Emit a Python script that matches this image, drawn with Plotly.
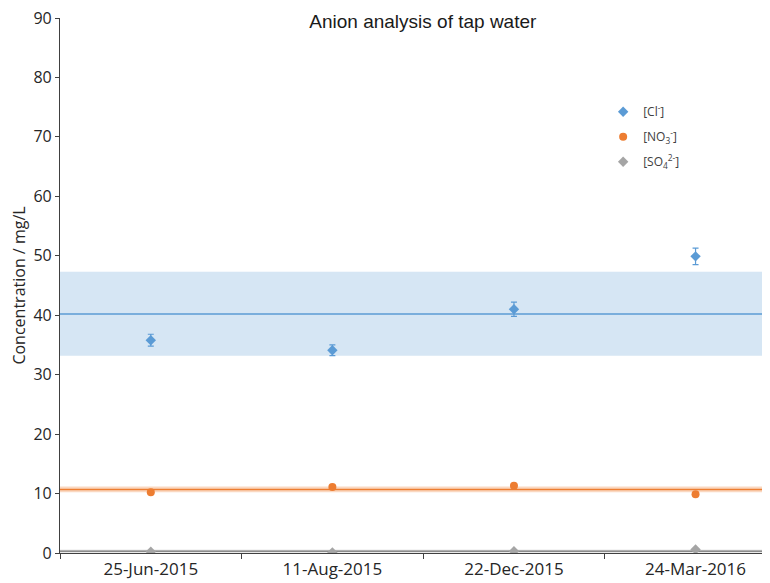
import plotly.graph_objects as go

dates = ["25-Jun-2015", "11-Aug-2015", "22-Dec-2015", "24-Mar-2016"]
cl_vals = [35.8, 34.1, 41.0, 49.9]
cl_err = [1.0, 0.9, 1.2, 1.4]
no3_vals = [10.2, 11.1, 11.3, 9.9]
so4_vals = [0.2, 0.1, 0.3, 0.6]

# mean lines and bands: [lower, mean, upper]
cl_band = [33.2, 40.2, 47.3]
no3_band = [10.2, 10.7, 11.2]
so4_band = [0.1, 0.3, 0.55]

y_ticks = [0, 10, 20, 30, 40, 50, 60, 70, 80, 90]

blue = "#5B9BD5"
orange = "#ED7D31"
gray = "#A5A5A5"

fig = go.Figure()

shapes = []
for band, fillc, linec in [
    (cl_band, "rgba(91,155,213,0.25)", blue),
    (no3_band, "rgba(237,125,49,0.3)", orange),
    (so4_band, "rgba(165,165,165,0.45)", "#8c8c8c"),
]:
    shapes.append(dict(type="rect", xref="x", yref="y", x0=-0.5, x1=3.6,
                       y0=band[0], y1=band[2], fillcolor=fillc,
                       line=dict(width=0), layer="below"))
    shapes.append(dict(type="line", xref="x", yref="y", x0=-0.5, x1=3.6,
                       y0=band[1], y1=band[1], line=dict(color=linec, width=1.5),
                       layer="below"))

fig.add_trace(go.Scatter(
    x=dates, y=cl_vals, mode="markers", name="[Cl<sup>-</sup>]", legendgroup="a",
    marker=dict(symbol="diamond", size=8, color=blue),
    error_y=dict(type="data", array=cl_err, color=blue, thickness=1.2, width=3),
))
fig.add_trace(go.Scatter(
    x=dates, y=no3_vals, mode="markers", name="[NO<sub>3</sub><sup>-</sup>]", legendgroup="b",
    marker=dict(symbol="circle", size=8, color=orange),
))
fig.add_trace(go.Scatter(
    x=dates, y=so4_vals, mode="markers", name="[SO<sub>4</sub><sup>2-</sup>]", legendgroup="c",
    marker=dict(symbol="diamond", size=8, color=gray),
))

fig.update_layout(
    width=762, height=575,
    margin=dict(l=52, r=0, t=10, b=30),
    paper_bgcolor="white", plot_bgcolor="white",
    shapes=shapes,
    title=dict(text="Anion analysis of tap water", xref="paper", x=0.511, xanchor="center",
               y=0.976, yanchor="middle",
               font=dict(family="Liberation Sans, Arial", size=19, color="#1a1a1a")),
    legend=dict(x=0.765, y=0.852, xanchor="left", yanchor="top",
                bgcolor="rgba(0,0,0,0)", traceorder="grouped", tracegroupgap=6,
                font=dict(family="Open Sans, sans-serif", size=12, color="#404040")),
    showlegend=True,
)
fig.update_xaxes(
    type="category", range=[-0.5, 3.41], tickson="boundaries", automargin=False,
    showline=True, linecolor="#404040", linewidth=1.2,
    ticks="outside", ticklen=5, tickcolor="#404040",
    showgrid=False, zeroline=False, ticklabeloverflow="allow",
    tickfont=dict(family="Open Sans, sans-serif", size=17, color="#262626"),
)
fig.update_yaxes(
    range=[0, 90], tickvals=y_ticks, automargin=False,
    showline=True, linecolor="#404040", linewidth=1.2,
    ticks="outside", ticklen=4, tickcolor="#404040",
    showgrid=False, zeroline=False, ticklabeloverflow="allow",
    tickfont=dict(family="Open Sans, sans-serif", size=16, color="#262626"),
    title=dict(text="Concentration / mg/L", standoff=5,
               font=dict(family="Open Sans, sans-serif", size=16, color="#262626")),
)

fig.write_html("out.html")
